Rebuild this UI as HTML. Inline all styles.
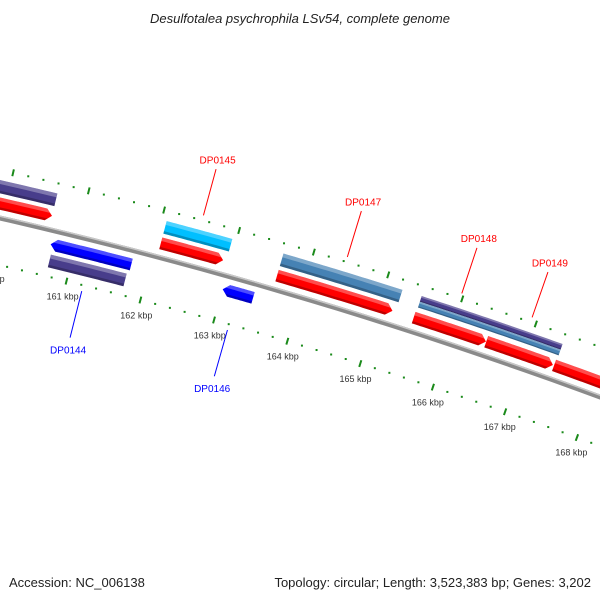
<!DOCTYPE html>
<html><head><meta charset="utf-8"><style>
html,body{margin:0;padding:0;background:#fff}
svg{display:block}
text{font-family:"Liberation Sans",sans-serif}
</style></head><body>
<svg id="map" width="600" height="600" viewBox="0 0 600 600" xmlns="http://www.w3.org/2000/svg">
<rect x="0" y="0" width="600" height="600" fill="#fff"/>
<text x="300" y="23" text-anchor="middle" font-size="13" font-style="italic" fill="#222">Desulfotalea psychrophila LSv54, complete genome</text>
<text x="9" y="587" font-size="13" fill="#222">Accession: NC_006138</text>
<text x="591" y="587" text-anchor="end" font-size="13" fill="#222">Topology: circular; Length: 3,523,383 bp; Genes: 3,202</text>
<defs id="defs"></defs>
<g id="plot"></g>
</svg>
<script>
// ---- data ----
const tickStartBp = 159000;
const tickEndBp = 170000;
const minorStepBp = 200;
const majorStepBp = 1000;
const geneNames = ["", "", "DP0144", "", "DP0145", "", "DP0146", "DP0147", "", "DP0148", "DP0149", "", "", ""];
const geneStart = [158000, 158000, 160685, 160720, 162068, 162068, 163000, 163630, 163630, 165480, 166470, 167400, 165493, 165493];
const geneEnd   = [160616, 160616, 161767, 161740, 162945, 162904, 163411, 165233, 165192, 166466, 167384, 170000, 167411, 167411];
const geneStrand = [0, 1, -1, 0, 0, 1, -1, 0, 1, 1, 1, 1, 0, 0];
const geneTrack = ["f2", "f1", "r1", "r2", "f2", "f1", "r1", "f2", "f1", "f1", "f1", "f1", "f2hi", "f2lo"];
const geneColor = ["#483d8b", "#ff0000", "#0000ff", "#483d8b", "#00bfff", "#ff0000", "#0000ff", "#4682b4", "#ff0000", "#ff0000", "#ff0000", "#ff0000", "#483d8b", "#4682b4"];
const labelGene = [2, 4, 6, 7, 9, 10];
const labelColor = ["#0000ff", "#ff0000", "#0000ff", "#ff0000", "#ff0000", "#ff0000"];
const labelBp = [161226, 162506, 163205, 164430, 165973, 166927];

// ---- geometry ----
const NS = "http://www.w3.org/2000/svg";
const p1 = [0, 218], p2 = [300, 297], p3 = [600, 397];
function circle3(a, b, c) {
  const d = 2 * (a[0] * (b[1] - c[1]) + b[0] * (c[1] - a[1]) + c[0] * (a[1] - b[1]));
  const ux = ((a[0]**2 + a[1]**2) * (b[1] - c[1]) + (b[0]**2 + b[1]**2) * (c[1] - a[1]) + (c[0]**2 + c[1]**2) * (a[1] - b[1])) / d;
  const uy = ((a[0]**2 + a[1]**2) * (c[0] - b[0]) + (b[0]**2 + b[1]**2) * (a[0] - c[0]) + (c[0]**2 + c[1]**2) * (b[0] - a[0])) / d;
  return [ux, uy, Math.hypot(a[0] - ux, a[1] - uy)];
}
const [CX, CY, R] = circle3(p1, p2, p3);
const angA = Math.atan2(283 - CY, 66 - CX);   // 161 kbp
const angB = Math.atan2(440 - CY, 576 - CX);  // 168 kbp
function ang(bp) { return angA + (bp - 161000) / 7000 * (angB - angA); }
function pt(bp, dr) { const a = ang(bp), r = R + dr; return [CX + r * Math.cos(a), CY + r * Math.sin(a)]; }
const tracks = { f1: [8, 20], f2: [24, 37], f2hi: [31, 37], f2lo: [25, 31], r1: [-20, -8], r2: [-37, -24] };

const plot = document.getElementById('plot');
const defs = document.getElementById('defs');
function el(tag, attrs, parent) {
  const e = document.createElementNS(NS, tag);
  for (const k in attrs) e.setAttribute(k, attrs[k]);
  (parent || plot).appendChild(e);
  return e;
}
function arcPts(b1, b2, dr, n) {
  const out = [];
  for (let i = 0; i <= n; i++) out.push(pt(b1 + (b2 - b1) * i / n, dr));
  return out;
}
function bandPath(b1, b2, r1, r2) {
  const a = arcPts(b1, b2, r2, 30), b = arcPts(b2, b1, r1, 30);
  return "M" + a.concat(b).map(p => p[0].toFixed(2) + "," + p[1].toFixed(2)).join("L") + "Z";
}
function genePath(b1, b2, r1, r2, strand) {
  const head = Math.min(80, (b2 - b1) * 0.4), mid = (r1 + r2) / 2;
  let pts;
  if (strand === 1) {
    pts = arcPts(b1, b2 - head, r2, 30).concat([pt(b2, mid)], arcPts(b2 - head, b1, r1, 30));
  } else if (strand === -1) {
    pts = arcPts(b1 + head, b2, r2, 30).concat(arcPts(b2, b1 + head, r1, 30), [pt(b1, mid)]);
  } else {
    pts = arcPts(b1, b2, r2, 30).concat(arcPts(b2, b1, r1, 30));
  }
  return "M" + pts.map(p => p[0].toFixed(2) + "," + p[1].toFixed(2)).join("L") + "Z";
}

// backbone
const bb = el('path', { d: bandPath(tickStartBp, tickEndBp, -2.5, 2.5), fill: '#8a8a8a' });


const bbh = el('path', { d: bandPath(tickStartBp, tickEndBp, 1, 2.5), fill: '#c8c8c8' });



// ticks
for (let bp = tickStartBp; bp <= tickEndBp; bp += minorStepBp) {
  const major = bp % majorStepBp === 0;
  [[47, 'outer'], [-46, 'inner']].forEach(([dr, side]) => {
    if (major) {
      const a = pt(bp, dr - 3.5), b = pt(bp, dr + 3.5);
      const t = el('line', { x1: a[0], y1: a[1], x2: b[0], y2: b[1], stroke: '#1a8a1a', 'stroke-width': 2 });
      
      
    } else {
      const c = pt(bp, dr);
      const t = el('rect', { x: c[0] - 1, y: c[1] - 1, width: 2, height: 2, fill: '#1a8a1a' });
      
      
    }
  });
  if (major) {
    const c = pt(bp, -62);
    const t = el('text', { x: c[0], y: c[1] + 3, 'text-anchor': 'middle', 'font-size': 9, fill: '#333' });
    t.textContent = (bp / 1000) + " kbp";
    
    
  }
}

// genes
geneStart.forEach((s, i) => {
  const [r1, r2] = tracks[geneTrack[i]];
  const d = genePath(s, geneEnd[i], r1, r2, geneStrand[i]);
  const g = el('g', {});
  
  
  const cp = el('clipPath', { id: 'cp' + i }, defs);
  el('path', { d: d }, cp);
  el('path', { d: d, fill: geneColor[i] }, g);
  const h = r2 - r1;
  el('path', { d: bandPath(s - 200, geneEnd[i] + 200, r2 - h * 0.3, r2 + 1), fill: '#fff', opacity: 0.3, 'clip-path': 'url(#cp' + i + ')' }, g);
  el('path', { d: bandPath(s - 200, geneEnd[i] + 200, r1 - 1, r1 + h * 0.2), fill: '#000', opacity: 0.25, 'clip-path': 'url(#cp' + i + ')' }, g);
});

// gene labels
labelGene.forEach((gi, j) => {
  const fwd = geneStrand[gi] >= 0 && geneTrack[gi][0] === 'f';
  const sgn = fwd ? 1 : -1;
  const a = pt(labelBp[j], sgn * 52), b = pt(labelBp[j], sgn * 100);
  const ln = el('line', { x1: a[0], y1: a[1], x2: b[0], y2: b[1], stroke: labelColor[j], 'stroke-width': 1 });
  
  
  const c = pt(labelBp[j], sgn * (fwd ? 106 : 108));
  const t = el('text', { x: c[0], y: c[1] + (fwd ? 0 : 8), 'text-anchor': 'middle', 'font-size': 10, fill: labelColor[j] });
  t.textContent = geneNames[gi];
  
  
});
</script>
</body></html>
